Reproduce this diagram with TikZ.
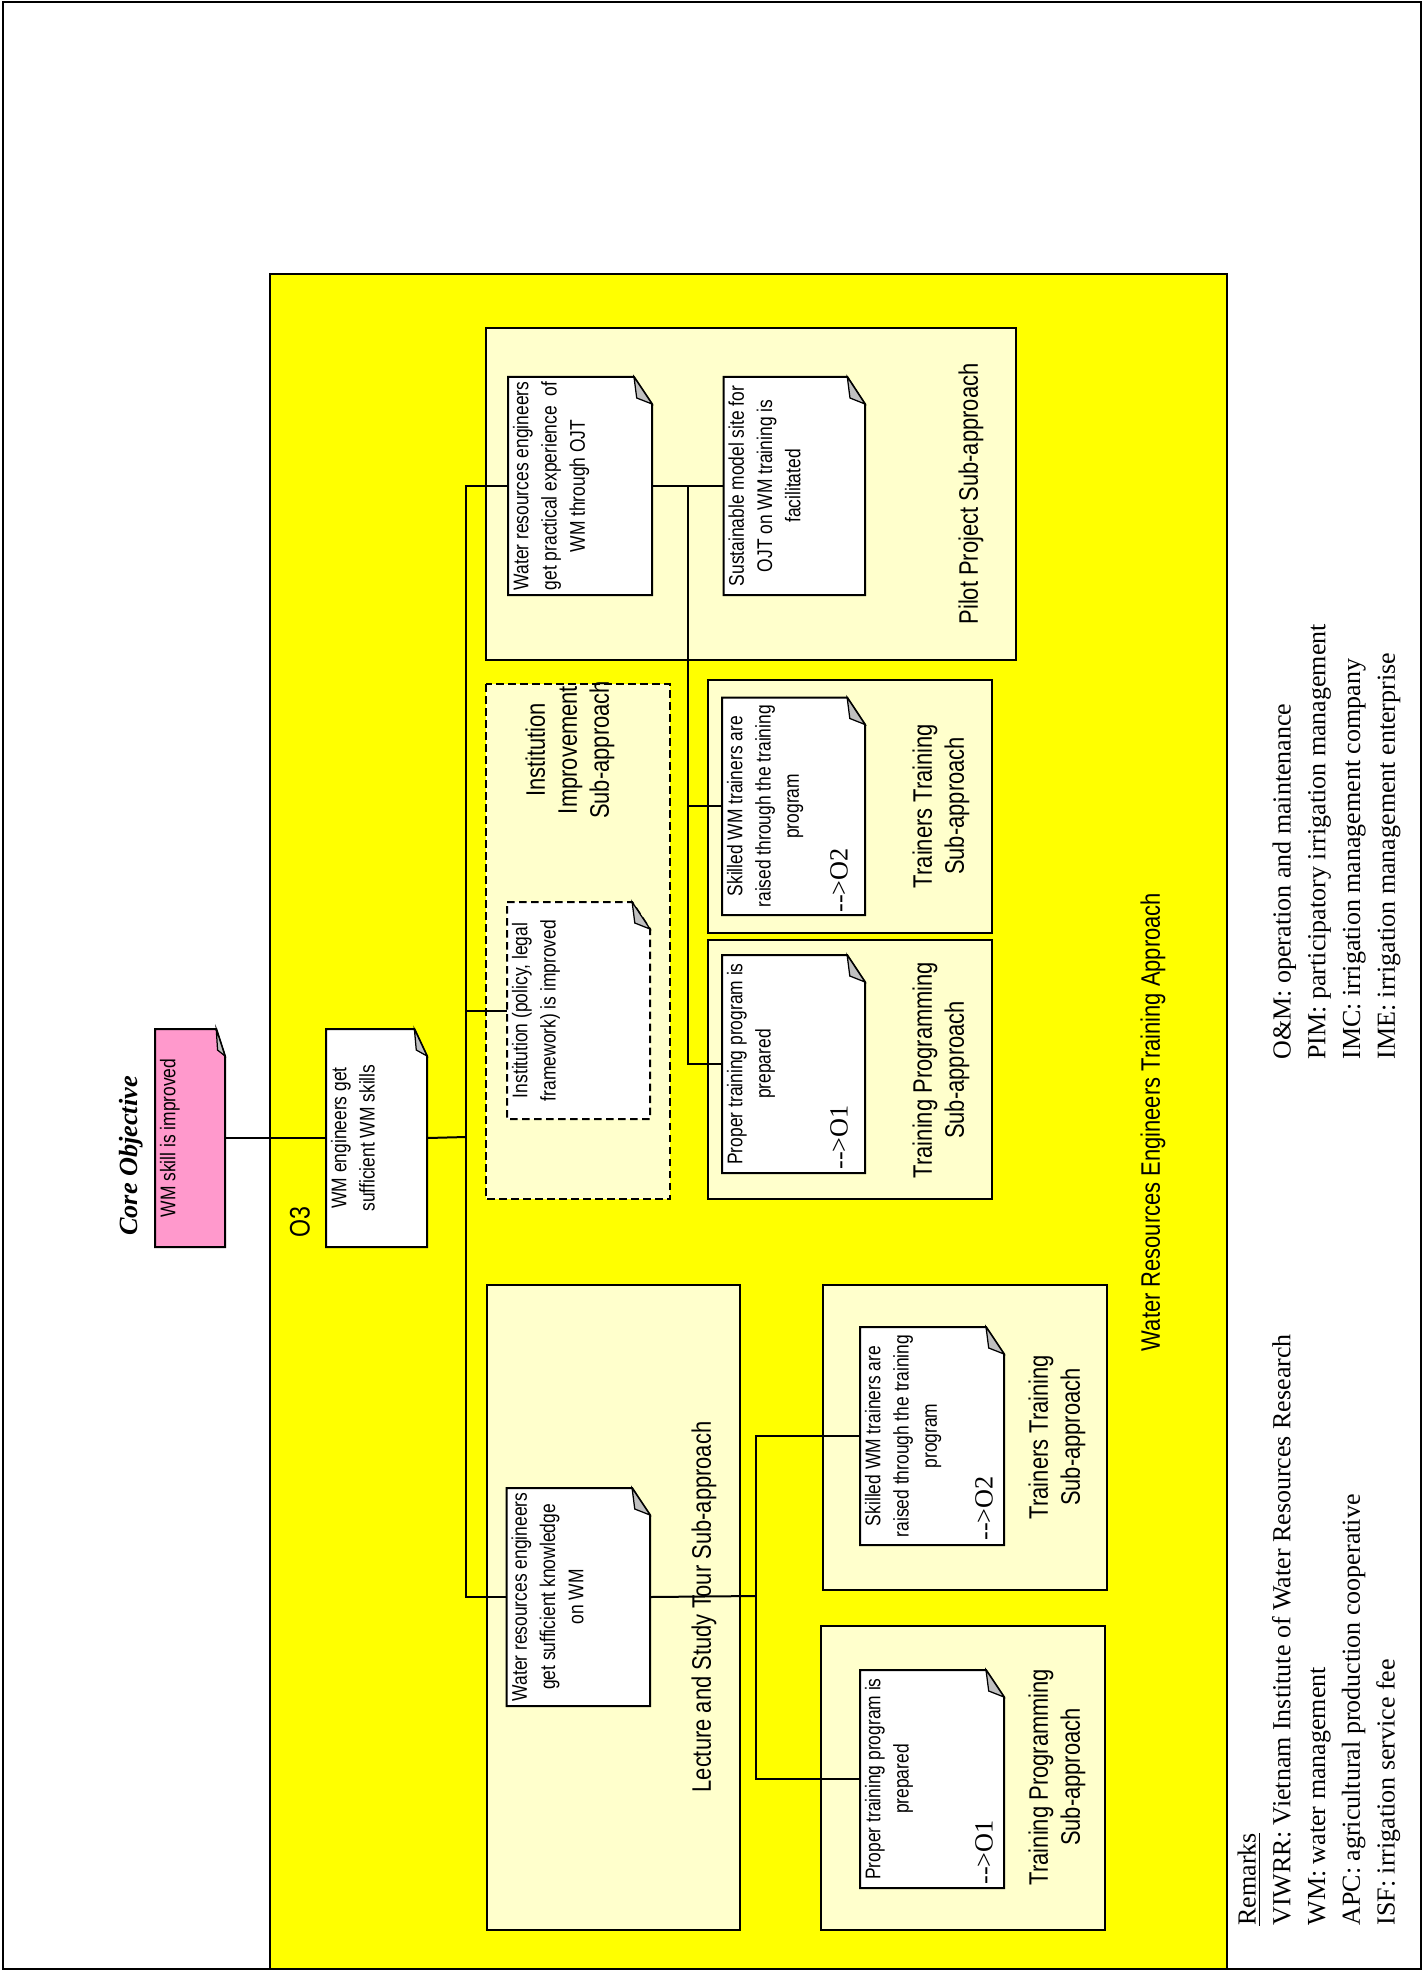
\documentclass[tikz,border=0pt]{standalone}
\usepackage{fontspec}
\setmainfont{Liberation Serif}
\newfontfamily\narrowsans[FakeStretch=0.82]{Liberation Sans}
\usetikzlibrary{fit}

\definecolor{bgyellow}{HTML}{FFFF00}
\definecolor{paleyellow}{HTML}{FFFFCC}
\definecolor{notepink}{HTML}{FF99CC}
\definecolor{foldgray}{HTML}{C0C0C0}

% dog-eared note: name, x1, y1, x2, y2, extra style, text
\newcommand{\notebox}[7]{%
  \pgfmathsetmacro{\foldw}{(#4-#2)/8}%
  \path[noteline,#6] (#2,#3) -- ({#4-\foldw},#3) -- (#4,{#3+27}) -- (#4,#5) -- (#2,#5) -- cycle;%
  \path[foldline] ({#4-\foldw},#3) -- ({#4-0.85*\foldw},{#3+21}) -- (#4,{#3+27}) -- cycle;%
  \node[fit={(#2,#3) (#4,#5)}, inner sep=0pt] (#1) {};%
  \node[ntext] (#1-t) at ([xshift=2pt]#1.west) {#7};%
}

\begin{document}
\begin{tikzpicture}[x=0.4pt,y=-0.4pt,
  frame/.style={draw=black, line width=0.8pt},
  subbox/.style={draw=black, line width=0.8pt, fill=paleyellow},
  dashbox/.style={draw=black, line width=0.8pt, fill=paleyellow, dash pattern=on 3pt off 1.8pt},
  link/.style={draw=black, line width=0.8pt},
  noteline/.style={draw=black, line width=0.8pt, fill=white},
  foldline/.style={draw=black, line width=0.5pt, fill=foldgray},
  lbl/.style={rotate=90, font=\narrowsans\fontsize{10.7}{12.8}\selectfont, align=center, inner sep=0pt},
  ntext/.style={rotate=90, anchor=north, font=\narrowsans\fontsize{8.5}{11.3}\selectfont, align=center, inner sep=0pt},
  tag/.style={rotate=90, anchor=west, font=\fontsize{10.5}{12}\selectfont, inner sep=0pt},
  remark/.style={rotate=90, align=left, font=\fontsize{10.4}{13.9}\selectfont, inner sep=0pt},
]
\useasboundingbox (0,0) rectangle (1423,1971);

% page frame and the approach panel
\path[frame] (2.5,2.5) rectangle (1420.5,1969);
\path[frame, fill=bgyellow] (270,274) rectangle (1227,1969);

% sub-approach panels
\path[subbox] (486,328) rectangle (1016,660);
\path[dashbox] (486,684) rectangle (670,1199);
\path[subbox] (707.5,680) rectangle (992,933);
\path[subbox] (707.5,940) rectangle (992,1199);
\path[subbox] (487,1285) rectangle (740,1930);
\path[subbox] (823,1285) rectangle (1107,1590);
\path[subbox] (821,1626) rectangle (1105,1930);

% panel captions
\node[lbl] (cap-pilot) at (971,494) {Pilot Project Sub-approach};
\node[lbl] (cap-inst) at (570,750) {Institution\\Improvement\\Sub-approach};
\node[lbl] (cap-tt1) at (941,806) {Trainers Training\\Sub-approach};
\node[lbl] (cap-tp1) at (941,1070) {Training Programming\\Sub-approach};
\node[lbl] (cap-lec) at (704,1607) {Lecture and Study Tour Sub-approach};
\node[lbl] (cap-tt2) at (1057,1437) {Trainers Training\\Sub-approach};
\node[lbl] (cap-tp2) at (1057,1777) {Training Programming\\Sub-approach};
\node[lbl] (cap-app) at (1153,1122) {Water Resources Engineers Training Approach};
\node[lbl, font=\narrowsans\fontsize{11.3}{13}\selectfont] (cap-o3) at (300,1222) {O3};
\node[lbl, font=\bfseries\itshape\fontsize{10.5}{12}\selectfont] (cap-core) at (131,1156) {Core Objective};

% notes
\notebox{core}{155}{1029}{225}{1247}{fill=notepink}{WM skill is improved}
\notebox{o3}{326}{1029}{427}{1247}{}{WM engineers get\\sufficient WM skills}
\notebox{pa}{508}{377}{652}{595}{}{Water resources engineers\\get practical experience\ \ of\\WM through OJT}
\notebox{pb}{723.5}{377}{865}{595}{}{Sustainable model site for\\OJT on WM training is\\facilitated}
\notebox{inst}{507}{902}{650}{1119}{dash pattern=on 3pt off 1.8pt}{Institution (policy, legal\\framework) is improved}
\notebox{ska}{722}{697.5}{865}{915}{}{Skilled WM trainers are\\raised through the training\\program}
\notebox{pra}{722}{955}{865}{1173}{}{Proper training program is\\prepared}
\notebox{lec}{506.5}{1488}{650}{1706}{}{Water resources engineers\\get sufficient knowledge\\on WM}
\notebox{skb}{860}{1327}{1004}{1545}{}{Skilled WM trainers are\\raised through the training\\program}
\notebox{prb}{860}{1670}{1004}{1888}{}{Proper training program is\\prepared}

% output tags
\node[tag] (ska-tag) at (839,913) {-{}->O2};
\node[tag] (pra-tag) at (839,1170) {-{}->O1};
\node[tag] (skb-tag) at (984,1541) {-{}->O2};
\node[tag] (prb-tag) at (984,1885) {-{}->O1};

% connectors
\coordinate (trunk) at (466,1137);
\coordinate (fork-a) at (688,485);
\coordinate (fork-b) at (755.5,1596);
\path[link] (core.east) -- (o3.west);
\path[link] (o3.east) -- (trunk);
\path[link] (pa.west) -| (trunk) |- (lec.west);
\path[link] (inst.west) -- (inst.west -| trunk);
\path[link] (pa.east) -- (pb.west);
\path[link] (fork-a) |- (ska.west);
\path[link] (ska.west -| fork-a) |- (pra.west);
\path[link] (lec.east) -- (fork-b);
\path[link] (skb.west) -| (fork-b) |- (prb.west);

% remarks
\node[remark, anchor=north west] (remarks) at (1237,1926)
  {\underline{Remarks}\\VIWRR: Vietnam Institute of Water Resources Research\\WM: water management\\APC: agricultural production cooperative\\ISF: irrigation service fee};
\node[remark, anchor=north west] (abbrevs) at (1272,1060)
  {O\&M: operation and maintenance\\PIM: participatory irrigation management\\IMC: irrigation management company\\IME: irrigation management enterprise};
\end{tikzpicture}
\end{document}
